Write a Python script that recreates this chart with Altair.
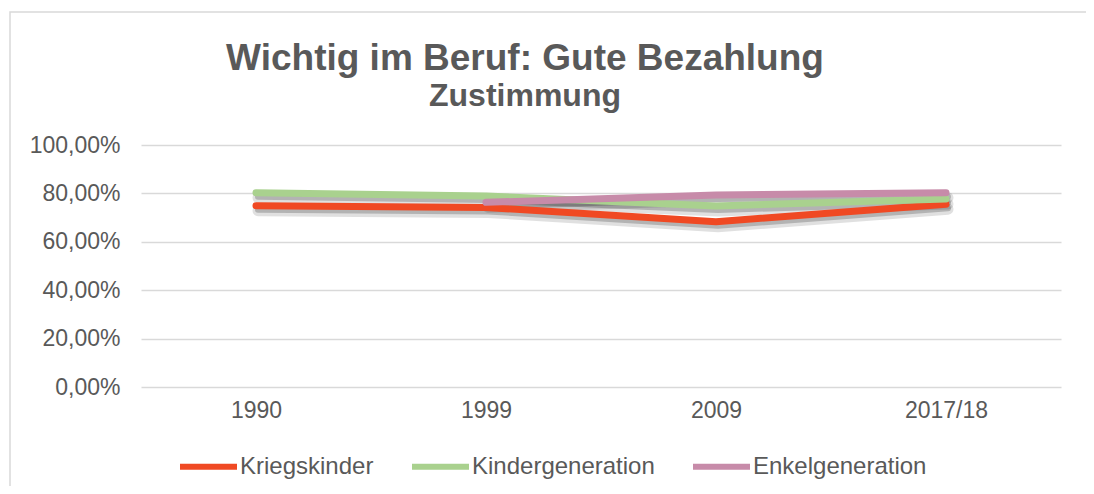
import altair as alt
import pandas as pd

years = ["1990", "1999", "2009", "2017/18"]
kriegskinder = [0.749, 0.742, 0.683, 0.755]
kindergeneration = [0.803, 0.789, 0.748, 0.777]
enkelgeneration = [None, 0.763, 0.793, 0.803]
series_names = ["Kriegskinder", "Kindergeneration", "Enkelgeneration"]
series_colors = ["#F04923", "#A9D18E", "#C78BA9"]
y_ticks = [0, 0.2, 0.4, 0.6, 0.8, 1.0]

rows = []
for name, vals in zip(series_names, [kriegskinder, kindergeneration, enkelgeneration]):
    for yr, v in zip(years, vals):
        if v is not None:
            rows.append({"Jahr": yr, "Wert": v, "Serie": name})
df = pd.DataFrame(rows)

FONT = "Liberation Sans"
TXT = "#595959"

x_enc = alt.X("Jahr:N", sort=years, title=None,
              axis=alt.Axis(labelAngle=0, labelFontSize=23, labelColor=TXT, labelFont=FONT,
                            ticks=False, domain=False, labelPadding=12, grid=False))
y_enc = alt.Y("Wert:Q", title=None, scale=alt.Scale(domain=[0, 1]),
              axis=alt.Axis(values=y_ticks, labelFontSize=23, labelColor=TXT, labelFont=FONT,
                            ticks=False, domain=False, labelPadding=21, grid=True,
                            gridColor="#D9D9D9", gridWidth=1.5,
                            labelExpr="replace(format(datum.value, '.2%'), '.', ',')"))

base = alt.Chart(df)

shadow = base.mark_line(strokeWidth=11, strokeCap="round", strokeJoin="round",
                        color="#000000", opacity=0.12, yOffset=5, xOffset=2).encode(
    x=x_enc, y=y_enc, detail="Serie:N")
shadow2 = base.mark_line(strokeWidth=6, strokeCap="round", strokeJoin="round",
                         color="#000000", opacity=0.2, yOffset=4, xOffset=2).encode(
    x=x_enc, y=y_enc, detail="Serie:N")

lines = base.mark_line(strokeWidth=7, strokeCap="round", strokeJoin="round").encode(
    x=x_enc, y=y_enc,
    color=alt.Color("Serie:N", sort=series_names,
                    scale=alt.Scale(domain=series_names, range=series_colors),
                    legend=alt.Legend(title=None, orient="none", direction="horizontal",
                                      legendX=36, legendY=290,
                                      symbolType="stroke", symbolStrokeWidth=6,
                                      symbolSize=3249, labelFontSize=24, labelFont=FONT,
                                      labelColor=TXT, labelOffset=0, columnPadding=26,
                                      labelLimit=400, padding=0)),
    order=alt.Order("Serie:N"))

border = alt.Chart(pd.DataFrame({"a": [0]})).mark_rect(
    fill="#FFFFFF", fillOpacity=0, stroke="#D9D9D9", strokeWidth=1.5).encode(
    x=alt.value(-131), x2=alt.value(949), y=alt.value(-133), y2=alt.value(360))

chart = alt.layer(border, shadow, shadow2, lines).properties(
    width=920, height=242,
    autosize=alt.AutoSizeParams(type="none"),
    padding={"left": 133, "top": 137, "right": 25, "bottom": 99},
    title=alt.TitleParams(text="Wichtig im Beruf: Gute Bezahlung", subtitle="Zustimmung",
                          font=FONT, fontSize=37, fontWeight="bold", color=TXT,
                          subtitleFont=FONT, subtitleFontSize=32, subtitleFontWeight="bold",
                          subtitleColor=TXT, anchor="middle", frame="group", dx=-76,
                          offset=-102, subtitlePadding=3),
).configure_view(stroke=None)

chart.save("out.html", embed_options={"renderer": "svg", "actions": False})
